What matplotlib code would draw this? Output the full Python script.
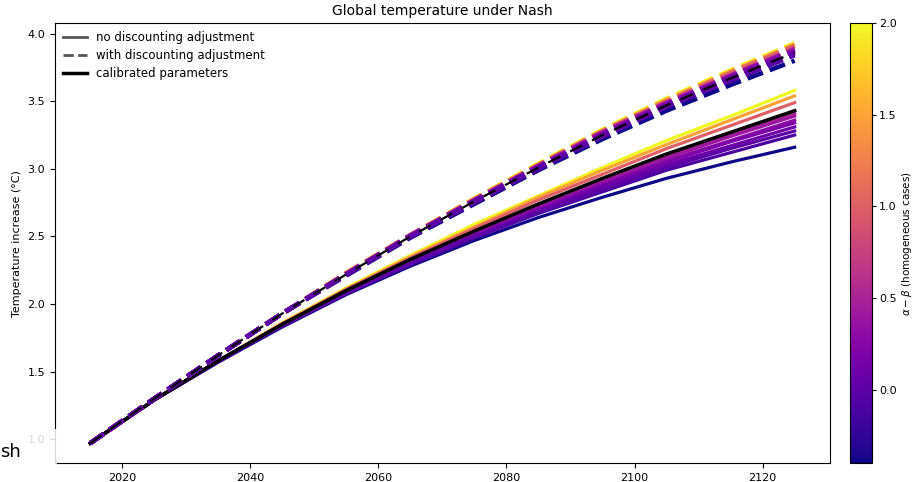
import matplotlib
matplotlib.use("Agg")
import matplotlib.pyplot as plt
import numpy as np
from matplotlib.patches import Rectangle

years = [2015, 2025, 2035, 2045, 2055, 2065, 2075, 2085, 2095, 2105, 2115, 2125]

# alpha - beta values of the homogeneous cases
ab_values = [2.0, 1.5, 1.0, 0.5, 0.4, 0.3, 0.2, 0.1, 0.0, -0.1, -0.4]

# temperature paths, no discounting adjustment (solid)
solid_paths = [
    [0.97, 1.29, 1.58, 1.86, 2.12, 2.36, 2.59, 2.80, 3.01, 3.21, 3.39, 3.58],
    [0.97, 1.29, 1.58, 1.86, 2.11, 2.35, 2.57, 2.79, 2.99, 3.18, 3.36, 3.54],
    [0.97, 1.29, 1.58, 1.85, 2.11, 2.34, 2.56, 2.77, 2.96, 3.15, 3.32, 3.49],
    [0.97, 1.29, 1.58, 1.85, 2.10, 2.33, 2.53, 2.73, 2.92, 3.10, 3.25, 3.41],
    [0.97, 1.29, 1.58, 1.85, 2.09, 2.32, 2.53, 2.72, 2.91, 3.08, 3.24, 3.39],
    [0.97, 1.29, 1.58, 1.85, 2.09, 2.32, 2.52, 2.71, 2.89, 3.06, 3.21, 3.36],
    [0.97, 1.29, 1.58, 1.84, 2.09, 2.31, 2.51, 2.70, 2.88, 3.05, 3.20, 3.34],
    [0.97, 1.29, 1.58, 1.84, 2.08, 2.31, 2.50, 2.69, 2.87, 3.03, 3.17, 3.31],
    [0.97, 1.29, 1.58, 1.84, 2.08, 2.30, 2.50, 2.68, 2.85, 3.01, 3.15, 3.28],
    [0.97, 1.29, 1.57, 1.84, 2.08, 2.29, 2.49, 2.67, 2.83, 2.99, 3.12, 3.25],
    [0.97, 1.29, 1.57, 1.83, 2.07, 2.28, 2.47, 2.64, 2.79, 2.93, 3.05, 3.16],
]

# temperature paths, with discounting adjustment (dashed)
dashed_paths = [
    [0.97, 1.30, 1.62, 1.93, 2.23, 2.51, 2.78, 3.04, 3.29, 3.52, 3.73, 3.93],
    [0.97, 1.30, 1.62, 1.93, 2.23, 2.51, 2.78, 3.03, 3.28, 3.51, 3.72, 3.92],
    [0.97, 1.30, 1.62, 1.93, 2.23, 2.51, 2.77, 3.03, 3.28, 3.50, 3.71, 3.91],
    [0.97, 1.30, 1.62, 1.93, 2.22, 2.51, 2.77, 3.02, 3.27, 3.49, 3.69, 3.89],
    [0.97, 1.30, 1.62, 1.93, 2.22, 2.50, 2.77, 3.02, 3.26, 3.48, 3.69, 3.88],
    [0.97, 1.30, 1.62, 1.93, 2.22, 2.50, 2.76, 3.02, 3.26, 3.48, 3.68, 3.875],
    [0.97, 1.30, 1.62, 1.93, 2.22, 2.50, 2.76, 3.01, 3.26, 3.48, 3.68, 3.87],
    [0.97, 1.30, 1.62, 1.93, 2.22, 2.50, 2.76, 3.01, 3.25, 3.47, 3.67, 3.86],
    [0.97, 1.30, 1.62, 1.93, 2.22, 2.50, 2.76, 3.01, 3.24, 3.46, 3.66, 3.85],
    [0.97, 1.30, 1.62, 1.93, 2.22, 2.50, 2.75, 3.00, 3.24, 3.46, 3.65, 3.84],
    [0.97, 1.30, 1.62, 1.93, 2.21, 2.49, 2.74, 2.99, 3.22, 3.43, 3.62, 3.80],
]

calib_solid = [0.97, 1.29, 1.58, 1.85, 2.10, 2.33, 2.54, 2.74, 2.93, 3.11, 3.27, 3.43]
calib_dashed = [0.97, 1.30, 1.62, 1.93, 2.22, 2.50, 2.76, 3.01, 3.25, 3.47, 3.67, 3.86]

cbar_ticks = [0.0, 0.5, 1.0, 1.5, 2.0]
vmin, vmax = -0.4, 2.0

fig = plt.figure(figsize=(9.17, 4.82), dpi=100)
ax = fig.add_axes([0.060, 0.039, 0.845, 0.913])
cax = fig.add_axes([0.927, 0.039, 0.024, 0.913])

cmap = plt.get_cmap("plasma")
norm = matplotlib.colors.Normalize(vmin=vmin, vmax=vmax)

# drawing order: darkest blue first, then from yellow down to the purples
order = [10, 0, 1, 2, 3, 4, 5, 6, 9, 7, 8]
for i in order:
    c = cmap(norm(ab_values[i]))
    ax.plot(years, solid_paths[i], color=c, lw=2.3)
ax.plot(years, calib_solid, color="black", lw=2.5)
for i in order:
    c = cmap(norm(ab_values[i]))
    ax.plot(years, dashed_paths[i], color=c, lw=3.2, ls="--")
ax.plot(years, calib_dashed, color="black", lw=1.6, ls="--", dashes=(6, 5))

ax.set_title("Global temperature under Nash", fontsize=10)
ax.set_ylabel("Temperature increase (°C)", fontsize=8)
ax.tick_params(labelsize=8)
ax.set_yticks([1.0, 1.5, 2.0, 2.5, 3.0, 3.5, 4.0])
ax.set_xticks([2020, 2040, 2060, 2080, 2100, 2120])

h1, = ax.plot([], [], color="#555555", lw=2)
h2, = ax.plot([], [], color="#555555", lw=2, ls="--")
h3, = ax.plot([], [], color="black", lw=2.5)
ax.legend([h1, h2, h3], ["no discounting adjustment", "with discounting adjustment",
                         "calibrated parameters"], loc="upper left", frameon=False,
          fontsize=8.5, handlelength=2.0, handletextpad=0.8, borderaxespad=0.3,
          labelspacing=0.42)

sm = matplotlib.cm.ScalarMappable(norm=norm, cmap=cmap)
cb = fig.colorbar(sm, cax=cax, ticks=cbar_ticks)
cb.ax.tick_params(labelsize=8, length=3, pad=2)
cb.set_label(r"$\alpha - \beta$ (homogeneous cases)", fontsize=7.5, labelpad=2)

# screenshot overlay artifact at bottom left
fig.patches.append(Rectangle((0.0, 0.035), 0.062, 0.075, transform=fig.transFigure,
                             facecolor="white", alpha=0.85, edgecolor="none", zorder=5))
fig.text(0.0, 0.063, "sh", fontsize=13, va="center", ha="left", zorder=6)

fig.savefig("out.png", dpi=100)
